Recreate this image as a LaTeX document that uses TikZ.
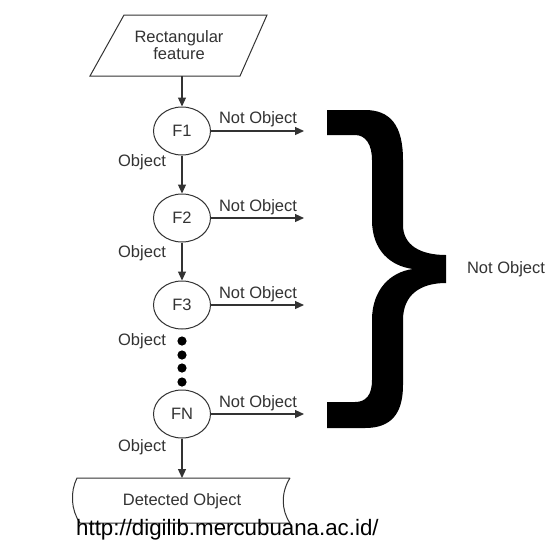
\documentclass[tikz,border=0pt]{standalone}
\usepackage{fontspec}
\setmainfont{Liberation Sans}
\usetikzlibrary{shapes.geometric,arrows.meta}
\definecolor{ink}{HTML}{333333}
\begin{document}
\begin{tikzpicture}[x=1pt,y=-1pt,
  lbl/.style={font=\fontsize{16.5}{17}\selectfont, text=ink, inner sep=0pt},
  stage/.style={ellipse, draw=ink, line width=1pt, minimum width=57pt, minimum height=48pt, inner sep=0pt, font=\fontsize{16.5}{17}\selectfont, text=ink},
  flow/.style={draw=ink, line width=1.2pt, -{Triangle[length=9pt,width=8pt]}},
  shp/.style={draw=ink, line width=1pt}]
\useasboundingbox (0,0) rectangle (546,542);
\fill[white] (0,0) rectangle (546,542);

% input parallelogram
\draw[shp] (124,15) -- (267,15) -- (240,76) -- (90,76) -- cycle;
\node[lbl, align=center] (in) at (179,45) {Rectangular\\feature};
\coordinate (inb) at (182,76);

% stages
\node[stage] (f1) at (182,131) {F1};
\node[stage] (f2) at (182,218) {F2};
\node[stage] (f3) at (182,305) {F3};
\node[stage] (fn) at (182,414) {FN};

% ends of "Not Object" arrows
\coordinate (e1) at (304,131);
\coordinate (e2) at (304,218);
\coordinate (e3) at (304,305);
\coordinate (en) at (304,414);

\draw[flow] (inb) -- (f1.north);
\draw[flow] (f1.south) -- (f2.north);
\draw[flow] (f2.south) -- (f3.north);
\draw[flow] (f1.east) -- (e1);
\draw[flow] (f2.east) -- (e2);
\draw[flow] (f3.east) -- (e3);
\draw[flow] (fn.east) -- (en);

\node[lbl] (n1) at (258,119) {Not Object};
\node[lbl] (n2) at (258,207) {Not Object};
\node[lbl] (n3) at (258,294) {Not Object};
\node[lbl] (n4) at (258,403) {Not Object};

\node[lbl] (o1) at (142,162) {Object};
\node[lbl] (o2) at (142,253) {Object};
\node[lbl] (o3) at (142,341) {Object};
\node[lbl] (o4) at (142,447) {Object};

% dots
\foreach \yy in {341,355,368,382} \fill[black] (182,\yy) circle (4.6);

% output (stored data)
\draw[shp] (290,478) -- (77,478) .. controls (70,492) and (71,510) .. (80,523)
  -- (290,523) .. controls (281,510) and (281,492) .. (290,478);
\node[lbl] (det) at (182,501) {Detected Object};
\coordinate (dett) at (182,478);
\draw[flow] (fn.south) -- (dett);

% brace
\fill[black] (327,110) -- (365,110) .. controls (390,110) and (403,125) .. (403,160)
  -- (403,225) .. controls (403,245) and (420,255) .. (446,255) -- (446,283)
  .. controls (420,283) and (403,295) .. (403,320) -- (403,385)
  .. controls (403,415) and (390,428) .. (365,428) -- (327,428) -- (327,402)
  -- (355,402) .. controls (366,402) and (372,395) .. (372,380) -- (372,320)
  .. controls (372,290) and (390,272) .. (413,269)
  .. controls (390,266) and (372,250) .. (372,220) -- (372,160)
  .. controls (372,145) and (366,135) .. (355,135) -- (327,135) -- cycle;
\node[lbl] (no) at (506,269) {Not Object};

% watermark
\node[anchor=base west, inner sep=0pt, font=\fontsize{22.3}{24}\selectfont] (url) at (76,535) {http://digilib.mercubuana.ac.id/};
\end{tikzpicture}
\end{document}
